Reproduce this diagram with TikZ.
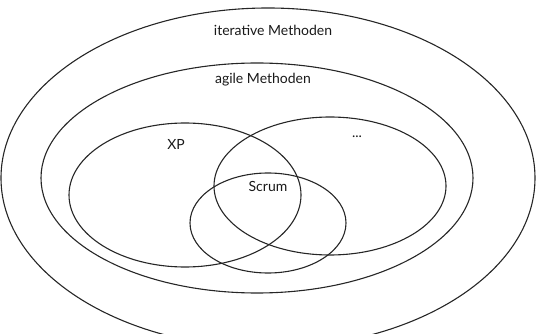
\documentclass[tikz,border=0pt]{standalone}
\usepackage{fontspec}
\setmainfont{Lato}
\begin{document}
\begin{tikzpicture}[x=1pt,y=-1pt,
  set/.style={draw=black!85, line width=1.1pt},
  lbl/.style={font=\fontsize{14}{16}\selectfont, text=black!90, inner sep=0pt}]
\useasboundingbox (0,0) rectangle (536,334);
\begin{scope}
\clip (0,0) rectangle (536,334);
\draw[set] (268,178) ellipse [x radius=267, y radius=170];
\draw[set] (257,178) ellipse [x radius=216, y radius=115];
\draw[set] (185,195) ellipse [x radius=116, y radius=72];
\draw[set] (330,186) ellipse [x radius=116, y radius=69];
\draw[set] (268,223) ellipse [x radius=78, y radius=50];
\end{scope}
\node[lbl] (it) at (273,30) {iterative Methoden};
\node[lbl] (ag) at (263,80) {agile Methoden};
\node[lbl] (xp) at (176,144) {XP};
\node[lbl] (dots) at (357,137) {...};
\node[lbl] (sc) at (268,186) {Scrum};
\end{tikzpicture}
\end{document}
